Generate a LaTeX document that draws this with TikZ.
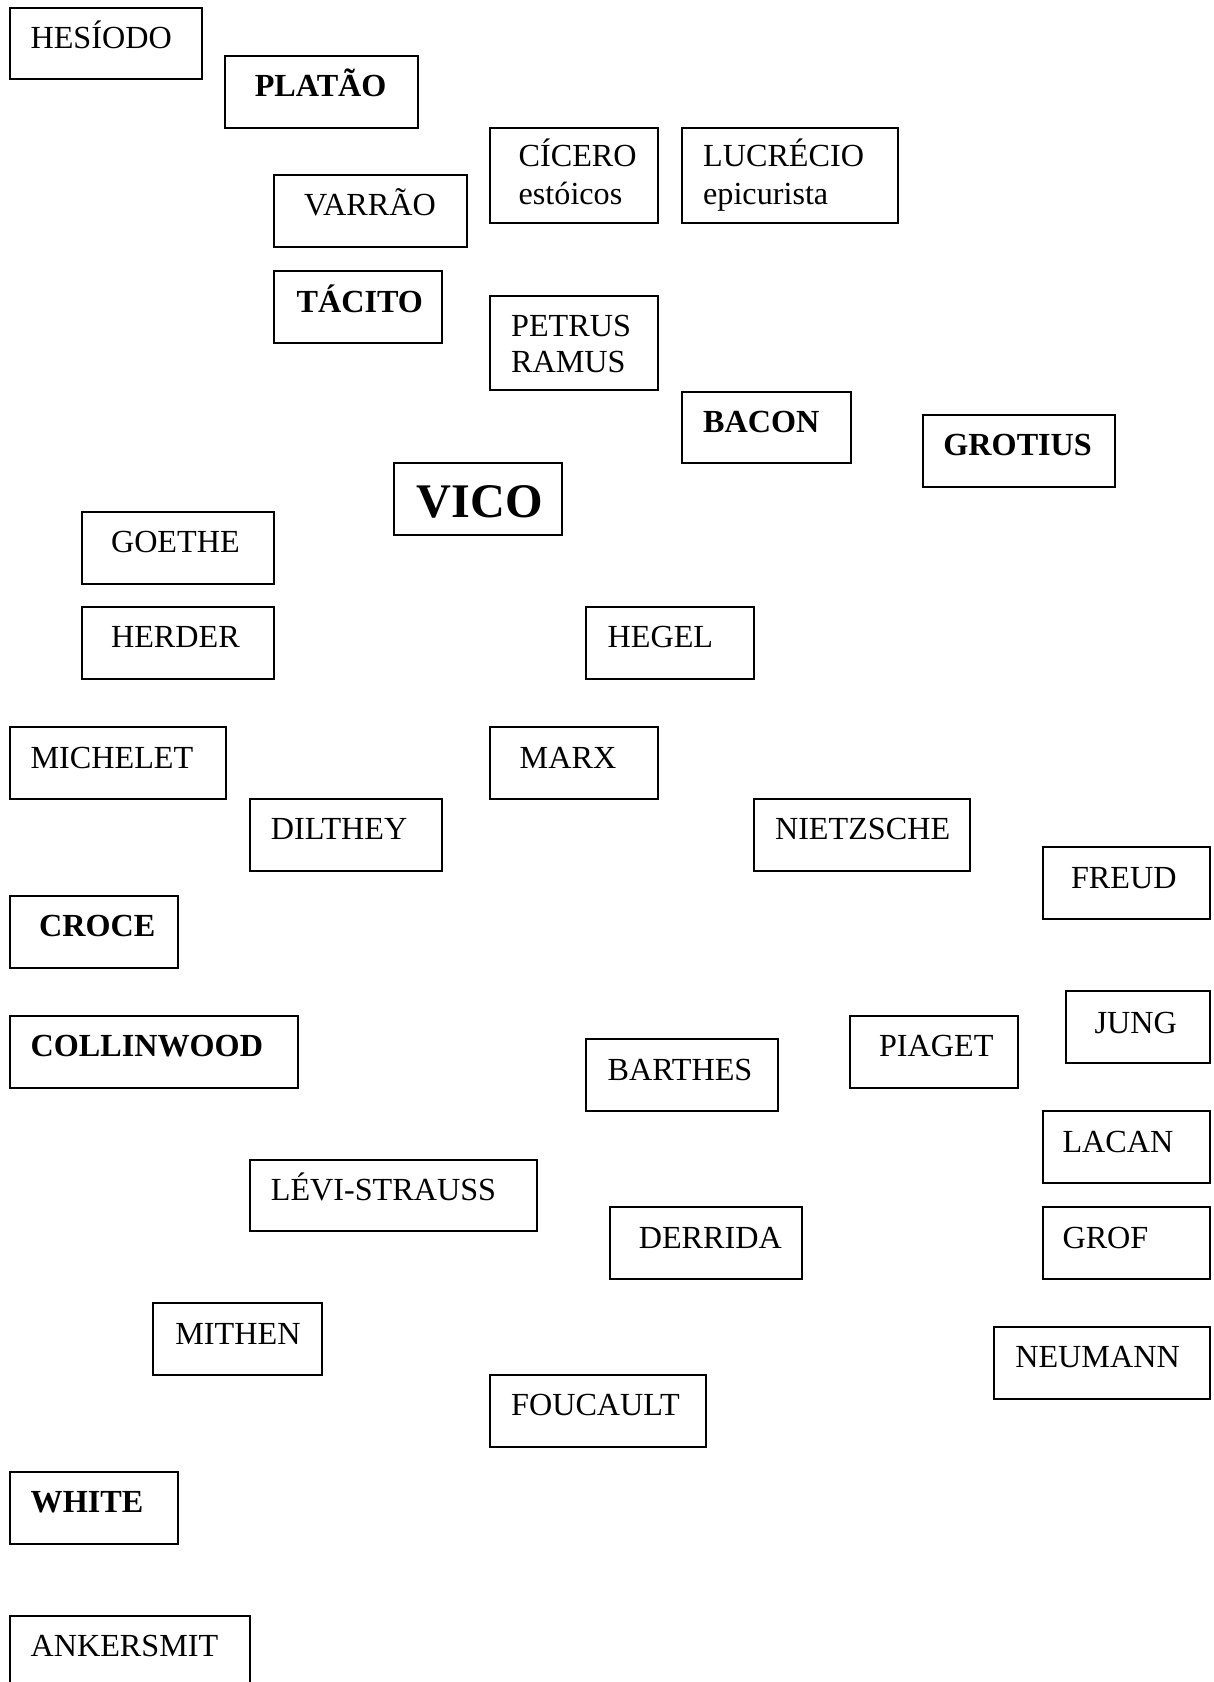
\documentclass[tikz,border=0pt]{standalone}
\usepackage{fontspec}
\setmainfont{Liberation Serif}
\usetikzlibrary{fit}
\begin{document}
\begin{tikzpicture}[x=0.4pt,y=-0.4pt,
  bx/.style={draw=black, line width=0.75pt, inner sep=0pt, rectangle},
  lbl/.style={anchor=base west, inner sep=0pt, font=\fontsize{12}{14}\selectfont},
  blbl/.style={lbl, font=\fontsize{12}{14}\selectfont\bfseries},
  big/.style={lbl, font=\fontsize{18}{22}\selectfont\bfseries}]
\clip (0,0) rectangle (1131,1568);
\fill[white] (0,0) rectangle (1131,1568);
% boxes
\node[bx, fit={(9,7) (188,74)}] (hes) {};
\node[lbl] (thes) at (28,45) {HESÍODO};
\node[bx, fit={(210,52) (390,119)}] (pla) {};
\node[blbl] (tpla) at (237,90) {PLATÃO};
\node[bx, fit={(457,119) (613,208)}] (cic) {};
\node[lbl] (tcic1) at (483,155) {CÍCERO};
\node[lbl] (tcic2) at (483,191) {estóicos};
\node[bx, fit={(636,119) (837,208)}] (luc) {};
\node[lbl] (tluc1) at (655,155) {LUCRÉCIO};
\node[lbl] (tluc2) at (655,191) {epicurista};
\node[bx, fit={(255,163) (435,230)}] (var) {};
\node[lbl] (tvar) at (283,201) {VARRÃO};
\node[bx, fit={(255,253) (412,320)}] (tac) {};
\node[blbl] (ttac) at (276,291) {TÁCITO};
\node[bx, fit={(457,276) (613,364)}] (pet) {};
\node[lbl] (tpet1) at (476,314) {PETRUS};
\node[lbl] (tpet2) at (476,347) {RAMUS};
\node[bx, fit={(636,365) (793,432)}] (bac) {};
\node[blbl] (tbac) at (655,403) {BACON};
\node[bx, fit={(860,387) (1039,454)}] (gro) {};
\node[blbl] (tgro) at (879,425) {GROTIUS};
\node[bx, fit={(367,432) (524,499)}] (vic) {};
\node[big] (tvic) at (388,482) {VICO};
\node[bx, fit={(76,477) (255,544)}] (goe) {};
\node[lbl] (tgoe) at (103,515) {GOETHE};
\node[bx, fit={(76,566) (255,633)}] (her) {};
\node[lbl] (ther) at (103,604) {HERDER};
\node[bx, fit={(546,566) (703,633)}] (heg) {};
\node[lbl] (theg) at (566,604) {HEGEL};
\node[bx, fit={(9,678) (211,745)}] (mic) {};
\node[lbl] (tmic) at (28,716) {MICHELET};
\node[bx, fit={(457,678) (613,745)}] (mar) {};
\node[lbl] (tmar) at (484,716) {MARX};
\node[bx, fit={(233,745) (412,812)}] (dil) {};
\node[lbl] (tdil) at (252,783) {DILTHEY};
\node[bx, fit={(703,745) (904,812)}] (nie) {};
\node[lbl] (tnie) at (722,783) {NIETZSCHE};
\node[bx, fit={(972,790) (1128,857)}] (fre) {};
\node[lbl] (tfre) at (998,828) {FREUD};
\node[bx, fit={(9,835) (166,902)}] (cro) {};
\node[blbl] (tcro) at (36,873) {CROCE};
\node[bx, fit={(9,947) (278,1014)}] (col) {};
\node[blbl] (tcol) at (28,985) {COLLINWOOD};
\node[bx, fit={(994,924) (1128,991)}] (jun) {};
\node[lbl] (tjun) at (1020,963) {JUNG};
\node[bx, fit={(792,947) (949,1014)}] (pia) {};
\node[lbl] (tpia) at (819,985) {PIAGET};
\node[bx, fit={(546,969) (725,1036)}] (bar) {};
\node[lbl] (tbar) at (566,1007) {BARTHES};
\node[bx, fit={(972,1036) (1128,1103)}] (lac) {};
\node[lbl] (tlac) at (990,1074) {LACAN};
\node[bx, fit={(233,1081) (501,1148)}] (lev) {};
\node[lbl] (tlev) at (252,1119) {LÉVI-STRAUSS};
\node[bx, fit={(569,1125) (748,1192)}] (der) {};
\node[lbl] (tder) at (595,1164) {DERRIDA};
\node[bx, fit={(972,1125) (1128,1192)}] (grf) {};
\node[lbl] (tgrf) at (990,1164) {GROF};
\node[bx, fit={(143,1215) (300,1282)}] (mit) {};
\node[lbl] (tmit) at (163,1253) {MITHEN};
\node[bx, fit={(927,1237) (1128,1304)}] (neu) {};
\node[lbl] (tneu) at (946,1275) {NEUMANN};
\node[bx, fit={(457,1282) (658,1349)}] (fou) {};
\node[lbl] (tfou) at (476,1320) {FOUCAULT};
\node[bx, fit={(9,1372) (166,1439)}] (whi) {};
\node[blbl] (twhi) at (28,1410) {WHITE};
\node[bx, fit={(9,1506) (233,1590)}] (ank) {};
\node[lbl] (tank) at (28,1544) {ANKERSMIT};
\end{tikzpicture}
\end{document}
